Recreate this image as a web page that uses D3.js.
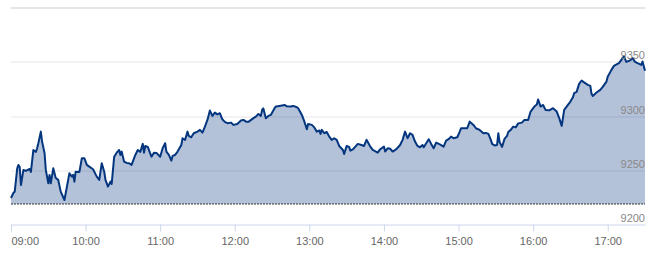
<!DOCTYPE html>
<html>
<head>
<meta charset="utf-8">
<script src="https://cdn.jsdelivr.net/npm/d3@7/dist/d3.min.js"></script>
<style>
  body { margin: 0; background: #fff; }
  svg { display: block; font-family: "Liberation Sans", Arial, sans-serif; }
</style>
</head>
<body>
<svg id="chart"></svg>
<script>
'use strict';

// ---------------------------------------------------------
// DATA
// ---------------------------------------------------------

const times = [
  '09:00', '09:02', '09:03', '09:05', '09:06', '09:07', '09:08', '09:10', '09:12', '09:15',
  '09:16', '09:18', '09:20', '09:21', '09:22', '09:24', '09:25', '09:27', '09:28', '09:30',
  '09:31', '09:32', '09:34', '09:35', '09:36', '09:38', '09:40', '09:43', '09:44', '09:47',
  '09:49', '09:50', '09:51', '09:52', '09:55', '09:57', '09:59', '10:01', '10:03', '10:06',
  '10:09', '10:11', '10:13', '10:15', '10:16', '10:18', '10:20', '10:21', '10:23', '10:25',
  '10:27', '10:28', '10:29', '10:31', '10:33', '10:35', '10:37', '10:40', '10:42', '10:44',
  '10:46', '10:47', '10:48', '10:50', '10:53', '10:55', '10:57', '11:00', '11:02', '11:04',
  '11:05', '11:07', '11:09', '11:10', '11:12', '11:14', '11:17', '11:18', '11:20', '11:22',
  '11:23', '11:25', '11:27', '11:30', '11:32', '11:34', '11:36', '11:38', '11:40', '11:42',
  '11:44', '11:46', '11:48', '11:50', '11:52', '11:54', '11:57', '11:59', '12:02', '12:05',
  '12:07', '12:09', '12:11', '12:15', '12:17', '12:19', '12:21', '12:22', '12:23', '12:25',
  '12:27', '12:29', '12:32', '12:33', '12:36', '12:40', '12:42', '12:45', '12:47', '12:50',
  '12:51', '12:54', '12:56', '12:58', '12:59', '13:02', '13:04', '13:06', '13:08', '13:09',
  '13:10', '13:12', '13:14', '13:16', '13:18', '13:20', '13:22', '13:24', '13:27', '13:28',
  '13:30', '13:32', '13:33', '13:35', '13:37', '13:39', '13:42', '13:44', '13:46', '13:47',
  '13:49', '13:51', '13:55', '13:57', '14:00', '14:01', '14:03', '14:05', '14:07', '14:10',
  '14:13', '14:15', '14:17', '14:19', '14:21', '14:23', '14:25', '14:27', '14:29', '14:31',
  '14:32', '14:34', '14:36', '14:38', '14:40', '14:42', '14:45', '14:48', '14:50', '14:52',
  '14:54', '14:56', '14:59', '15:01', '15:02', '15:04', '15:07', '15:09', '15:12', '15:14',
  '15:17', '15:20', '15:22', '15:24', '15:26', '15:27', '15:29', '15:31', '15:32', '15:33',
  '15:35', '15:37', '15:39', '15:40', '15:42', '15:44', '15:46', '15:48', '15:51', '15:53',
  '15:56', '15:58', '16:01', '16:03', '16:04', '16:06', '16:08', '16:10', '16:13', '16:16',
  '16:19', '16:21', '16:23', '16:25', '16:28', '16:30', '16:32', '16:33', '16:35', '16:37',
  '16:39', '16:41', '16:44', '16:46', '16:47', '16:48', '16:51', '16:54', '16:56', '16:59',
  '17:00', '17:03', '17:05', '17:09', '17:11', '17:13', '17:15', '17:18', '17:20', '17:22',
  '17:24', '17:27', '17:28', '17:30'
];

const prices = [
  9224.4, 9229.3, 9230.3, 9251.8, 9254.9, 9253.0, 9236.4, 9250.3, 9249.4, 9251.2,
  9248.4, 9268.7, 9266.9, 9270.3, 9274.9, 9285.6, 9276.4, 9265.7, 9250.3, 9238.0,
  9245.7, 9238.0, 9251.8, 9247.2, 9242.9, 9241.1, 9230.3, 9222.6, 9228.8, 9247.2,
  9244.1, 9245.7, 9239.5, 9248.7, 9248.4, 9261.1, 9261.1, 9254.9, 9253.3, 9250.9,
  9244.1, 9241.1, 9256.5, 9248.7, 9241.1, 9234.9, 9239.5, 9237.4, 9262.5, 9266.2,
  9268.7, 9264.1, 9267.2, 9257.9, 9256.7, 9256.5, 9254.9, 9264.1, 9268.7, 9266.9,
  9274.3, 9266.2, 9272.4, 9271.5, 9262.5, 9266.2, 9266.0, 9262.5, 9270.3, 9274.9,
  9267.2, 9264.1, 9258.9, 9263.2, 9264.1, 9267.2, 9273.3, 9279.5, 9277.9, 9285.6,
  9281.6, 9280.4, 9284.1, 9285.6, 9287.2, 9284.7, 9290.2, 9296.4, 9305.0, 9300.1,
  9303.1, 9301.5, 9302.6, 9297.0, 9294.6, 9293.4, 9293.9, 9291.8, 9292.7, 9295.8,
  9296.4, 9294.8, 9294.6, 9298.0, 9299.4, 9301.9, 9300.1, 9305.6, 9307.0, 9298.0,
  9300.1, 9301.0, 9307.2, 9308.7, 9309.3, 9310.2, 9308.9, 9308.7, 9309.3, 9308.1,
  9307.2, 9301.0, 9294.8, 9287.8, 9292.7, 9291.8, 9289.5, 9285.6, 9286.7, 9283.5,
  9287.2, 9284.1, 9285.3, 9281.0, 9278.0, 9279.5, 9278.0, 9272.4, 9268.7, 9265.0,
  9272.4, 9271.5, 9268.1, 9269.2, 9271.8, 9274.3, 9273.3, 9272.4, 9278.0, 9276.1,
  9271.8, 9268.7, 9266.2, 9269.4, 9271.8, 9267.2, 9270.3, 9269.8, 9267.2, 9269.4,
  9273.3, 9278.0, 9285.6, 9279.5, 9284.1, 9282.6, 9276.4, 9272.4, 9271.2, 9273.3,
  9271.2, 9274.9, 9278.6, 9274.3, 9270.3, 9275.5, 9273.8, 9271.8, 9277.3, 9278.6,
  9281.0, 9279.5, 9280.4, 9285.6, 9288.7, 9288.6, 9288.7, 9294.8, 9291.8, 9288.7,
  9287.2, 9284.1, 9284.4, 9283.5, 9278.0, 9274.3, 9272.9, 9273.3, 9284.1, 9276.1,
  9271.5, 9278.9, 9281.6, 9285.3, 9287.2, 9290.2, 9289.5, 9293.2, 9293.9, 9296.4,
  9296.4, 9304.1, 9308.7, 9310.7, 9315.3, 9308.7, 9310.2, 9305.6, 9305.2, 9307.2,
  9304.1, 9298.0, 9290.9, 9305.6, 9310.2, 9313.3, 9317.2, 9321.0, 9322.2, 9329.6,
  9332.7, 9331.0, 9328.7, 9327.8, 9320.4, 9318.5, 9321.6, 9324.1, 9326.8, 9331.7,
  9336.1, 9342.5, 9346.2, 9348.7, 9351.8, 9355.0, 9349.9, 9351.3, 9353.3, 9349.9,
  9348.7, 9347.1, 9350.2, 9341.6
];

const hourTicks = ['09:00', '10:00', '11:00', '12:00', '13:00', '14:00', '15:00', '16:00', '17:00'];
const sessionBounds = ['09:00', '17:30'];
const yLabelTicks = [9200, 9250, 9300, 9350];
const yGridTicks = [9250, 9300, 9350, 9400];
const yRange = [9200, 9400];
const prevClose = 9219.2;

// ---------------------------------------------------------
// SVG CREATION
// ---------------------------------------------------------

const w = 655,
  h = 253;
const margin = { top: 7.5, right: 10, bottom: 28.5, left: 11 };
const width = w - margin.left - margin.right,
  height = h - margin.top - margin.bottom;

const parseTime = d3.timeParse('%H:%M');
const series = times.map((t, i) => ({ date: parseTime(t), value: prices[i] }));

const svg = d3.select('#chart').attr('width', w).attr('height', h)
  .append('g').attr('transform', `translate(${ margin.left }, ${ margin.top })`);

const x = d3.scaleTime().domain(sessionBounds.map(parseTime)).range([0, width]);
const y = d3.scaleLinear().domain(yRange).range([height, 0]);

// GRID
svg.append('g').attr('class', 'grid')
  .selectAll('line').data(yGridTicks).join('line')
  .attr('x1', 0).attr('x2', width)
  .attr('y1', d => Math.round(y(d)) + 0.5).attr('y2', d => Math.round(y(d)) + 0.5)
  .attr('stroke', '#e6e6e6')
  .attr('stroke-width', d => d === yRange[1] ? 2 : 1);

// AREA (down to previous close) + LINE
const closeY = Math.round(y(prevClose)) + 0.5;
const area = d3.area().x(d => x(d.date)).y0(closeY).y1(d => y(d.value));
const line = d3.line().x(d => x(d.date)).y(d => y(d.value));

svg.append('path').datum(series)
  .attr('d', area)
  .attr('fill', '#053480')
  .attr('fill-opacity', 0.3);

// PREVIOUS CLOSE
svg.append('line')
  .attr('x1', 0).attr('x2', width)
  .attr('y1', closeY).attr('y2', closeY)
  .attr('stroke', '#333')
  .attr('stroke-dasharray', '2,1');

svg.append('path').datum(series)
  .attr('d', line)
  .attr('fill', 'none')
  .attr('stroke', '#04367f')
  .attr('stroke-width', 2)
  .attr('stroke-linejoin', 'round');

// X AXIS
const xAxis = d3.axisBottom(x)
  .tickValues(hourTicks.map(parseTime))
  .tickFormat(d3.timeFormat('%H:%M'))
  .tickSize(7)
  .tickSizeOuter(0)
  .tickPadding(6);

const gx = svg.append('g').attr('transform', `translate(0, ${ height })`).call(xAxis);
gx.select('.domain').attr('stroke', '#ccd6eb');
gx.selectAll('.tick line').attr('stroke', '#ccd6eb');
gx.selectAll('.tick text')
  .attr('fill', '#666')
  .style('font-size', '11px')
  .style('font-family', '"Liberation Sans", Arial, sans-serif');
gx.select('.tick:first-of-type text').attr('text-anchor', 'start');

// Y AXIS (labels inside the plot, right aligned, above the grid line)
const yAxis = d3.axisLeft(y).tickValues(yLabelTicks).tickSize(0).tickPadding(0).tickFormat(d3.format('d'));
const gy = svg.append('g').attr('transform', `translate(${ width }, 0)`).call(yAxis);
gy.select('.domain').remove();
gy.selectAll('.tick text')
  .attr('dy', '-3px')
  .attr('fill', '#888')
  .style('font-size', '11px')
  .style('font-family', '"Liberation Sans", Arial, sans-serif');
</script>
</body>
</html>
